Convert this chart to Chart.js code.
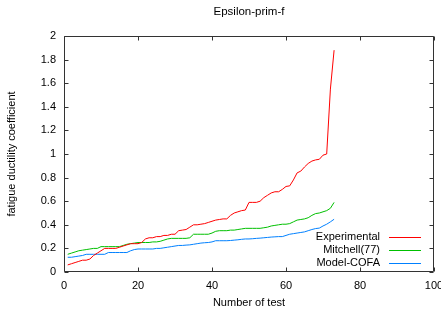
<!DOCTYPE html>
<html><head><meta charset="utf-8">
<script src="https://cdn.jsdelivr.net/npm/chart.js@4.4.0/dist/chart.umd.min.js"></script>
<style>html,body{margin:0;padding:0;background:#fff;overflow:hidden}#wrap{width:441px;height:313px}</style>
</head><body><div id="wrap"><canvas id="c" width="441" height="313"></canvas></div>
<script>
const testNumbers = [1,2,3,4,5,6,7,8,9,10,11,12,13,14,15,16,17,18,19,20,21,22,23,24,25,26,27,28,29,30,31,32,33,34,35,36,37,38,39,40,41,42,43,44,45,46,47,48,49,50,51,52,53,54,55,56,57,58,59,60,61,62,63,64,65,66,67,68,69,70,71,72,73];
const experimental = [0.06,0.07,0.08,0.09,0.10,0.10,0.11,0.14,0.16,0.18,0.20,0.20,0.20,0.20,0.21,0.22,0.23,0.24,0.24,0.24,0.25,0.28,0.29,0.29,0.30,0.30,0.31,0.31,0.32,0.32,0.35,0.355,0.36,0.38,0.40,0.40,0.405,0.41,0.42,0.43,0.44,0.445,0.45,0.45,0.48,0.50,0.51,0.52,0.525,0.59,0.59,0.59,0.60,0.63,0.65,0.67,0.68,0.68,0.70,0.725,0.73,0.78,0.84,0.855,0.89,0.92,0.94,0.95,0.955,0.99,1.00,1.55,1.88];
const mitchell = [0.15,0.16,0.17,0.18,0.185,0.19,0.195,0.20,0.20,0.215,0.215,0.215,0.215,0.215,0.215,0.225,0.235,0.24,0.245,0.25,0.25,0.25,0.25,0.255,0.255,0.26,0.27,0.28,0.285,0.285,0.285,0.285,0.285,0.29,0.32,0.32,0.32,0.32,0.32,0.33,0.345,0.35,0.35,0.35,0.355,0.355,0.36,0.365,0.37,0.37,0.37,0.37,0.37,0.375,0.38,0.39,0.395,0.40,0.405,0.405,0.41,0.425,0.44,0.445,0.45,0.46,0.48,0.495,0.50,0.51,0.52,0.54,0.59];
const modelCofa = [0.125,0.125,0.13,0.135,0.14,0.15,0.15,0.15,0.15,0.15,0.15,0.165,0.165,0.165,0.165,0.165,0.165,0.18,0.19,0.195,0.195,0.195,0.195,0.195,0.20,0.20,0.205,0.21,0.215,0.22,0.225,0.225,0.228,0.23,0.235,0.24,0.245,0.248,0.25,0.255,0.265,0.265,0.265,0.265,0.267,0.27,0.273,0.277,0.28,0.28,0.282,0.285,0.287,0.29,0.293,0.296,0.298,0.30,0.30,0.31,0.32,0.325,0.33,0.335,0.34,0.35,0.36,0.368,0.372,0.39,0.405,0.425,0.447];
const xTicks = [0,20,40,60,80,100];
const yTicks = [0,0.2,0.4,0.6,0.8,1,1.2,1.4,1.6,1.8,2];
const seriesNames = ['Experimental','Mitchell(77)','Model-COFA'];
const seriesColors = ['#ff0000','#00c000','#0080ff'];
const chartTitle = 'Epsilon-prim-f';
const xTitle = 'Number of test';
const yTitle = 'fatigue ductility coefficient';

Chart.defaults.font.family = "'Liberation Sans', Arial, sans-serif";
Chart.defaults.font.size = 11;
Chart.defaults.color = '#000';

const toPts = arr => arr.map((v,i)=>({x:testNumbers[i], y:v}));
const seriesData = [experimental, mitchell, modelCofa];

const frame = {
  id:'frame',
  afterDatasetsDraw(chart){
    const {ctx, chartArea:a, scales:{x,y}} = chart;
    ctx.save();
    ctx.strokeStyle = '#333';
    ctx.lineWidth = 1;
    ctx.beginPath();
    const L=Math.round(a.left)+0.5, R=Math.round(a.right)-0.5, T=Math.round(a.top)+0.5, B=Math.round(a.bottom)-0.5;
    ctx.rect(L,T,R-L,B-T);
    ctx.stroke();
    ctx.beginPath();
    x.ticks.forEach(t=>{const p=Math.round(x.getPixelForValue(t.value))+0.5; ctx.moveTo(p,B); ctx.lineTo(p,B-4); ctx.moveTo(p,T); ctx.lineTo(p,T+4);});
    y.ticks.forEach(t=>{const p=Math.round(y.getPixelForValue(t.value))+0.5; ctx.moveTo(L,p); ctx.lineTo(L+4,p); ctx.moveTo(R,p); ctx.lineTo(R-4,p);});
    ctx.stroke();
    // legend
    ctx.font = "11px 'Liberation Sans', Arial, sans-serif";
    ctx.textAlign='right'; ctx.textBaseline='middle'; ctx.fillStyle='#000';
    chart.data.datasets.forEach((d,i)=>{
      const yy = 237 + i*13;
      ctx.fillText(d.label, 380, yy);
      ctx.strokeStyle = d.borderColor; ctx.beginPath(); ctx.moveTo(389, yy+0.5); ctx.lineTo(421, yy+0.5); ctx.stroke();
    });
    // title
    ctx.font = "11.5px 'Liberation Sans', Arial, sans-serif";
    ctx.textAlign='center';
    ctx.fillText(chartTitle, (a.left+a.right)/2, 12);
    ctx.restore();
  }
};

new Chart(document.getElementById('c'), {
  type:'line',
  data:{datasets: seriesData.map((arr,i)=>({label:seriesNames[i], data:toPts(arr), borderColor:seriesColors[i], borderWidth:1, pointRadius:0, tension:0, fill:false}))},
  options:{
    responsive:false, animation:false, devicePixelRatio:1,
    layout:{padding:{top:36, right:7, left:0, bottom:0}},
    plugins:{legend:{display:false}, title:{display:false}, tooltip:{enabled:false}},
    scales:{
      x:{type:'linear', min:0, max:100,
        afterBuildTicks(s){ s.ticks = xTicks.map(v=>({value:v})); },
        afterFit(s){ s.height = 41; s.paddingLeft=0; s.paddingRight=0; },
        grid:{display:false, drawTicks:false}, border:{display:false},
        ticks:{padding:7, maxRotation:0, autoSkip:false, callback:v=>String(v)},
        title:{display:true, text:xTitle, padding:{top:0,bottom:3}}
      },
      y:{type:'linear', min:0, max:2,
        afterBuildTicks(s){ s.ticks = yTicks.map(v=>({value:v})); },
        afterFit(s){ s.width = 64; s.paddingTop=0; s.paddingBottom=0; },
        grid:{display:false, drawTicks:false}, border:{display:false},
        ticks:{padding:8, autoSkip:false, callback:v=>String(Number(v.toFixed(1)))},
        title:{display:true, text:yTitle, padding:{top:5,bottom:0}}
      }
    }
  },
  plugins:[frame]
});
</script></body></html>
